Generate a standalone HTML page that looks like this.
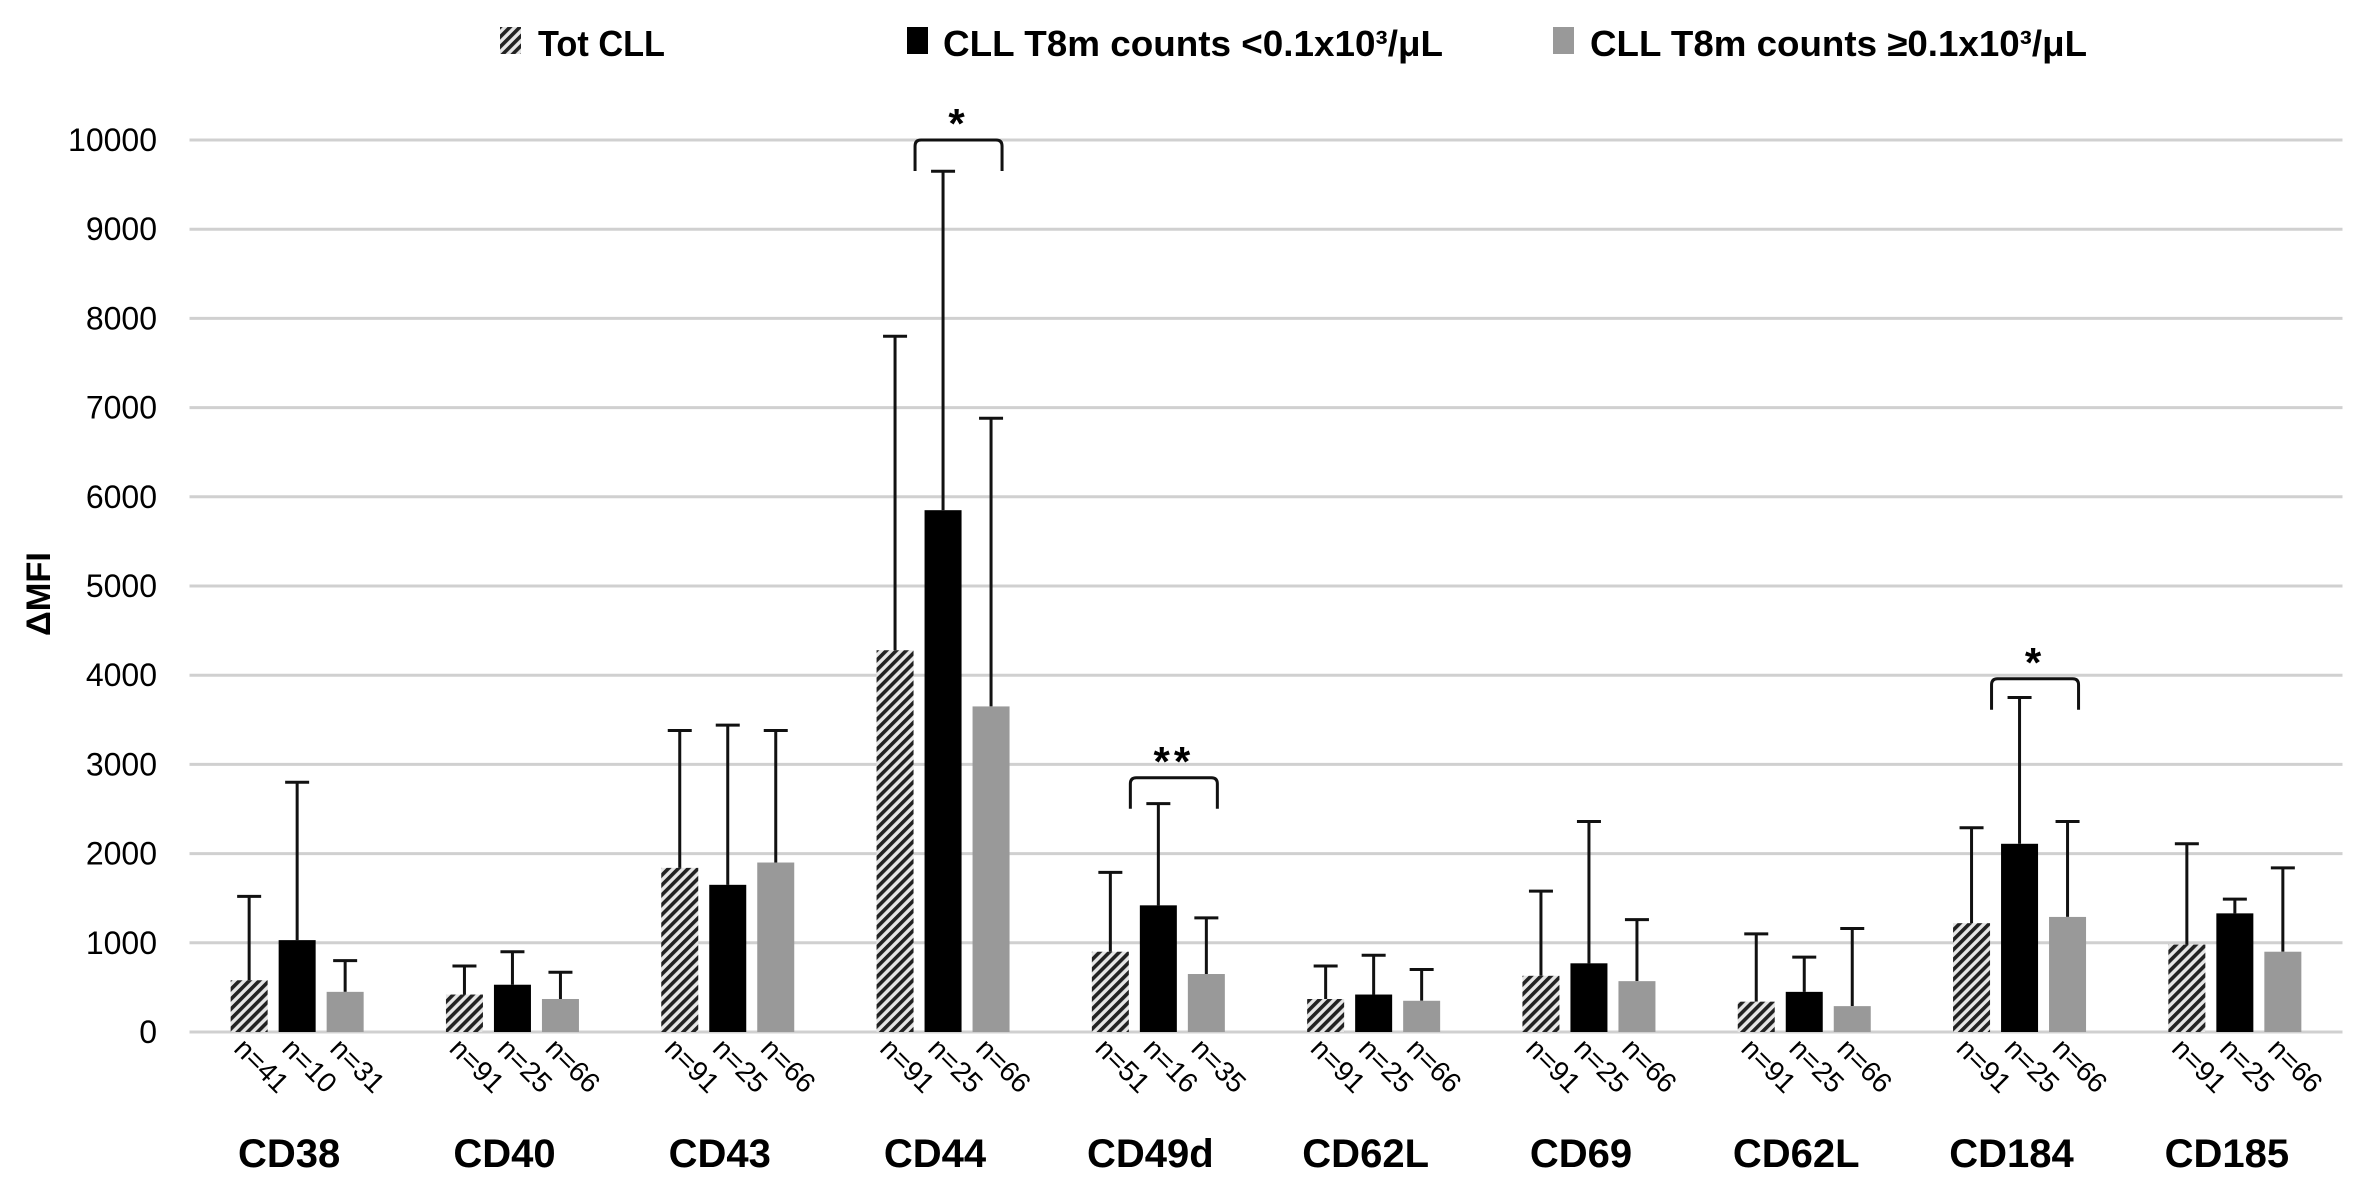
<!DOCTYPE html>
<html><head><meta charset="utf-8"><style>
html,body{margin:0;padding:0;background:#fff;}
svg{display:block;font-family:"Liberation Sans",sans-serif;}
</style></head><body>
<svg id="chart" width="2360" height="1189" viewBox="0 0 2360 1189" xmlns="http://www.w3.org/2000/svg">
<defs>
<pattern id="hatch" patternUnits="userSpaceOnUse" width="7" height="7" patternTransform="rotate(45)">
<rect width="7" height="7" fill="#e6e6e6"/>
<rect x="0" y="0" width="3.6" height="7" fill="#222"/>
</pattern>
</defs>
<g id="legend">
<g><rect x="500" y="27" width="21" height="27" fill="url(#hatch)"/><text x="538" y="56" font-size="36" font-weight="bold" textLength="127" lengthAdjust="spacingAndGlyphs">Tot CLL</text></g>
<g><rect x="907" y="27" width="21" height="27" fill="#000"/><text x="943" y="56" font-size="36" font-weight="bold" textLength="500" lengthAdjust="spacingAndGlyphs">CLL T8m counts &lt;0.1x10³/μL</text></g>
<g><rect x="1553" y="27" width="21" height="27" fill="#999"/><text x="1590" y="56" font-size="36" font-weight="bold" textLength="497" lengthAdjust="spacingAndGlyphs">CLL T8m counts ≥0.1x10³/μL</text></g>
</g>
<text transform="translate(50,594) rotate(-90)" text-anchor="middle" font-size="34" font-weight="bold" textLength="84" lengthAdjust="spacingAndGlyphs">ΔMFI</text>
<g id="grid"></g><g id="bars"></g><g id="labels"></g><g id="sig"></g>
</svg>
<script>
const categories=["CD38","CD40","CD43","CD44","CD49d","CD62L","CD69","CD62L","CD184","CD185"];
const totVals=[580,420,1840,4280,900,370,630,340,1220,980];
const totErr=[1520,740,3380,7800,1790,740,1580,1100,2290,2110];
const lowVals=[1030,530,1650,5850,1420,420,770,450,2110,1330];
const lowErr=[2800,900,3440,9650,2560,860,2360,840,3750,1490];
const highVals=[450,370,1900,3650,650,350,570,290,1290,900];
const highErr=[800,670,3380,6880,1280,700,1260,1160,2360,1840];
const totN=["n=41","n=91","n=91","n=91","n=51","n=91","n=91","n=91","n=91","n=91"];
const lowN=["n=10","n=25","n=25","n=25","n=16","n=25","n=25","n=25","n=25","n=25"];
const highN=["n=31","n=66","n=66","n=66","n=35","n=66","n=66","n=66","n=66","n=66"];
const yTicks=[0,1000,2000,3000,4000,5000,6000,7000,8000,9000,10000];
const sigCats=[3,4,8];
const sigTop=[10000,2850,3960];
const sigStars=["*","**","*"];

const NS="http://www.w3.org/2000/svg";
const X0=189.5,BAND=215.3,Y0=1032,Y1=140,VMAX=10000,BW=37,STEP=48;
const y=v=>Y0-(v/VMAX)*(Y0-Y1);
const bx=(c,s)=>X0+BAND*(c+0.5)+(s-1)*STEP;
function mk(tag,attrs,parent){const e=document.createElementNS(NS,tag);for(const k in attrs)e.setAttribute(k,attrs[k]);parent.appendChild(e);return e;}
const grid=document.getElementById('grid'),bars=document.getElementById('bars'),labels=document.getElementById('labels'),sig=document.getElementById('sig');
yTicks.forEach(t=>{
  const l=mk('line',{x1:X0,x2:X0+BAND*categories.length,y1:y(t),y2:y(t),stroke:'#d0d0d0','stroke-width':3},grid);
  
  
  const tx=mk('text',{x:157,y:y(t)+11,'text-anchor':'end','font-size':32},grid);
  tx.textContent=t;
  
  
});
const series=[[totVals,totErr,totN,'url(#hatch)'],[lowVals,lowErr,lowN,'#000'],[highVals,highErr,highN,'#999']];
categories.forEach((c,i)=>{
  series.forEach((s,j)=>{
    const cx=bx(i,j),v=s[0][i],e=s[1][i];
    const eb=mk('path',{d:`M${cx} ${y(v)}V${y(e)}M${cx-12} ${y(e)}H${cx+12}`,stroke:'#111','stroke-width':3,fill:'none'},bars);
    
    
    const r=mk('rect',{x:cx-BW/2,y:y(v),width:BW,height:Y0-y(v),fill:s[3]},bars);
    
    
    const nx=cx-BW/2+2,ny=1050;
    const nt=mk('text',{x:nx,y:ny,'font-size':28,transform:`rotate(45 ${nx} ${ny})`},labels);
    nt.textContent=s[2][i];
    
    
  });
  const ct=mk('text',{x:bx(i,1)-8,y:1167,'text-anchor':'middle','font-size':40,'font-weight':'bold'},labels);
  ct.textContent=c;
  
  
});
sigCats.forEach((c,k)=>{
  const xl=bx(c,1)-28,xr=bx(c,2)+11,yt=y(sigTop[k]);
  const p=mk('path',{d:`M${xl} ${yt+31}V${yt+6}Q${xl} ${yt} ${xl+6} ${yt}H${xr-6}Q${xr} ${yt} ${xr} ${yt+6}V${yt+31}`,stroke:'#111','stroke-width':3,fill:'none'},sig);
  
  
  const st=mk('text',{x:(xl+xr)/2,y:yt-2,'text-anchor':'middle','font-size':42,'font-weight':'bold','letter-spacing':4},sig);
  st.textContent=sigStars[k];
  
  
});
</script>
</body></html>
